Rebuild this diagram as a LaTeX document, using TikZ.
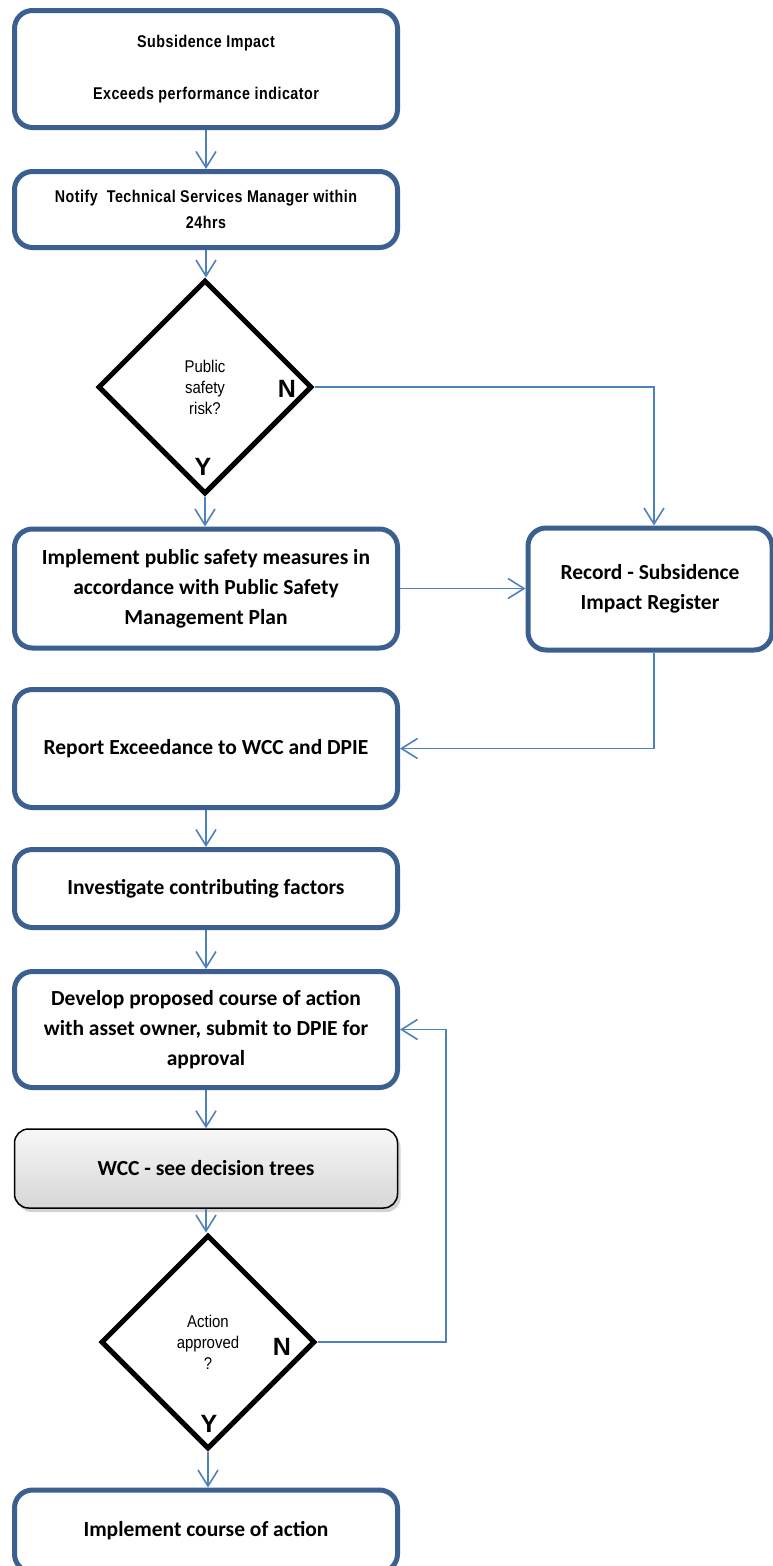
\documentclass[tikz,border=0pt]{standalone}
\usepackage{fontspec}
\usetikzlibrary{shapes.geometric,arrows.meta,shadows}
\definecolor{boxblue}{HTML}{3B5F8E}
\definecolor{arrblue}{HTML}{4F81BD}
\newfontfamily\calfont{Carlito}
\newfontfamily\narrowfont[FakeStretch=0.84,LetterSpace=3]{Liberation Sans}
\newfontfamily\dianfont[FakeStretch=0.88]{Liberation Sans}
\newfontfamily\arialfont{Liberation Sans}
\begin{document}
\begin{tikzpicture}[x=1pt,y=-1pt,
  box/.style={draw=boxblue, line width=5pt, rounded corners=18pt, fill=white,
    minimum width=383pt, inner sep=0pt, align=center,
    font=\calfont\bfseries\fontsize{21.5}{30}\selectfont},
  nbox/.style={box, font=\narrowfont\bfseries\fontsize{17}{26}\selectfont},
  greybox/.style={draw=black, line width=1.5pt, rounded corners=14pt,
    top color=gray!6, bottom color=gray!32, minimum width=383pt, inner sep=0pt,
    align=center, font=\calfont\bfseries\fontsize{21.5}{30}\selectfont,
    drop shadow={shadow xshift=3pt, shadow yshift=-4pt, opacity=0.35}},
  dia/.style={diamond, draw=black, line width=5pt, miter limit=20, fill=white,
    minimum width=214pt, minimum height=214pt, inner sep=0pt, align=center,
    font=\dianfont\fontsize{17}{21}\selectfont},
  yn/.style={font=\arialfont\bfseries\fontsize{25}{25}\selectfont, inner sep=0pt},
  arr/.style={draw=arrblue, line width=1.6pt,
    -{Straight Barb[length=16pt,width=20pt]}}]
\fill[white] (0,0) rectangle (773,1566);
\useasboundingbox (0,0) rectangle (773,1566);

\node[nbox, minimum height=117pt] (b1) at (206,69)
  {Subsidence Impact\\[26pt]Exceeds performance indicator};
\node[nbox, minimum height=76pt] (b2) at (206,209.5)
  {Notify\ \ Technical Services Manager within\\24hrs};
\node[dia] (d1) at (205,387) {\raisebox{-3pt}{\parbox{80pt}{\centering Public\\safety\\risk?}}};
\node[yn] (n1) at (287,389) {N};
\node[yn] (y1) at (203,467) {Y};
\node[box, minimum height=119pt] (b3) at (206,588.5)
  {Implement public safety measures in\\accordance with Public Safety\\Management Plan};
\node[box, minimum width=244pt, minimum height=122pt] (rec) at (650,589)
  {Record - Subsidence\\Impact Register};
\node[box, minimum height=118pt] (b4) at (206,748.5)
  {Report Exceedance to WCC and DPIE};
\node[box, minimum height=78pt] (b5) at (206,888.5)
  {Investigate contributing factors};
\node[box, minimum height=116pt] (b6) at (206,1029.5)
  {Develop proposed course of action\\with asset owner, submit to DPIE for\\approval};
\node[greybox, minimum height=79pt] (b7) at (206,1168.5)
  {WCC - see decision trees};
\node[dia] (d2) at (208,1342) {\raisebox{-2pt}{\parbox{80pt}{\centering Action\\approved\\?}}};
\node[yn] (n2) at (282,1347) {N};
\node[yn] (y2) at (209,1424) {Y};
\node[box, minimum height=82pt] (b8) at (206,1531)
  {Implement course of action};

\coordinate (lp) at (446,1342);

\draw[arr] (b1.south) -- (b2.north);
\draw[arr] (b2.south) -- (b2.south |- d1.north);
\draw[arr] (d1.south) -- (d1.south |- b3.north);
\draw[arr] (d1.east) -| ([xshift=4pt]rec.north);
\draw[arr] (b3.east) -- (b3.east -| rec.west);
\draw[arr] ([xshift=4pt]rec.south) |- (b4.east);
\draw[arr] (b4.south) -- (b5.north);
\draw[arr] (b5.south) -- (b6.north);
\draw[arr] (b6.south) -- (b7.north);
\draw[arr] (b7.south) -- (b7.south |- d2.north);
\draw[arr] (d2.south) -- (d2.south |- b8.north);
\draw[arr] (d2.east) -- (lp) |- (b6.east);
\end{tikzpicture}
\end{document}
